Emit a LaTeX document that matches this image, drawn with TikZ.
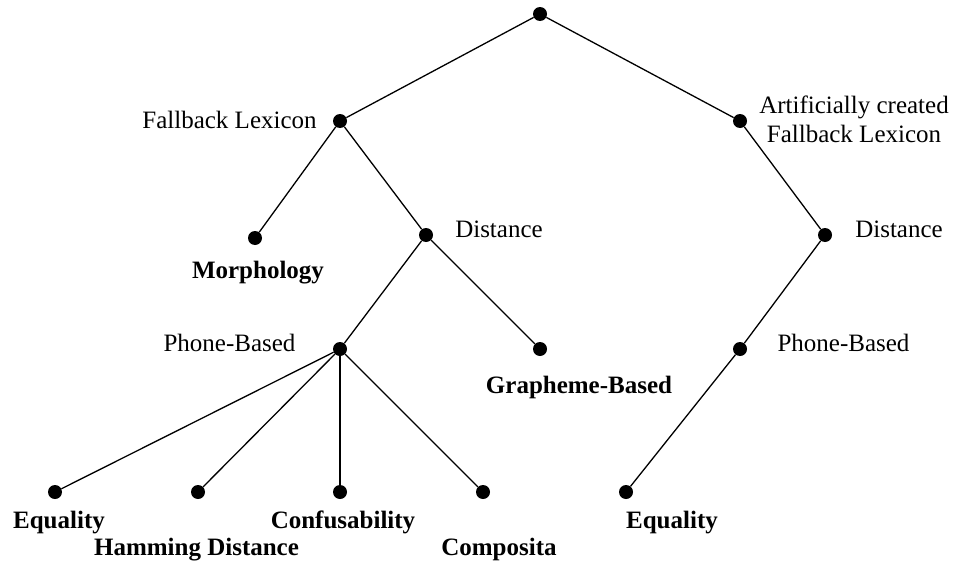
\documentclass[tikz,border=0pt]{standalone}
\usepackage{fontspec}
\setmainfont{Liberation Serif}
\begin{document}
\begin{tikzpicture}[x=1pt,y=-1pt,
  dot/.style={circle,fill=black,inner sep=0pt,minimum size=14pt},
  edge/.style={line width=1.3pt},
  lbl/.style={inner sep=0pt,anchor=base,font=\fontsize{25}{29}\selectfont},
  blbl/.style={lbl,font=\fontsize{25}{29}\selectfont\bfseries}]
\useasboundingbox (0,0) rectangle (959,562);
\node[dot] (root) at (540,14) {};
\node[dot] (fl) at (340,121) {};
\node[dot] (afl) at (740,121) {};
\node[dot] (morph) at (255,238) {};
\node[dot] (d1) at (426,235) {};
\node[dot] (d2) at (825,235) {};
\node[dot] (pb1) at (340,349) {};
\node[dot] (gb) at (540,349) {};
\node[dot] (pb2) at (740,349) {};
\node[dot] (eq1) at (55,492) {};
\node[dot] (ham) at (198,492) {};
\node[dot] (conf) at (340,492) {};
\node[dot] (comp) at (483,492) {};
\node[dot] (eq2) at (626,492) {};

\draw[edge] (root) -- (fl);
\draw[edge] (root) -- (afl);
\draw[edge] (fl) -- (morph);
\draw[edge] (fl) -- (d1);
\draw[edge] (d1) -- (pb1);
\draw[edge] (d1) -- (gb);
\draw[edge] (pb1) -- (eq1);
\draw[edge] (pb1) -- (ham);
\draw[edge] (pb1) -- (conf);
\draw[edge] (pb1) -- (comp);
\draw[edge] (afl) -- (d2);
\draw[edge] (d2) -- (pb2);
\draw[edge] (pb2) -- (eq2);

\node[lbl] (tfl) at (229.5,128) {Fallback Lexicon};
\node[lbl] (tafl1) at (854,113) {Artificially created};
\node[lbl] (tafl2) at (854,142) {Fallback Lexicon};
\node[lbl] (td1) at (499,237) {Distance};
\node[blbl] (tmorph) at (258,278) {Morphology};
\node[lbl] (tpb1) at (229.5,351) {Phone-Based};
\node[blbl] (tgb) at (579,393) {Grapheme-Based};
\node[lbl] (td2) at (899,237) {Distance};
\node[lbl] (tpb2) at (843.5,351) {Phone-Based};
\node[blbl] (teq1) at (59,528) {Equality};
\node[blbl] (tham) at (196.5,555) {Hamming Distance};
\node[blbl] (tconf) at (343,528) {Confusability};
\node[blbl] (tcomp) at (499,555) {Composita};
\node[blbl] (teq2) at (672,528) {Equality};
\end{tikzpicture}
\end{document}
